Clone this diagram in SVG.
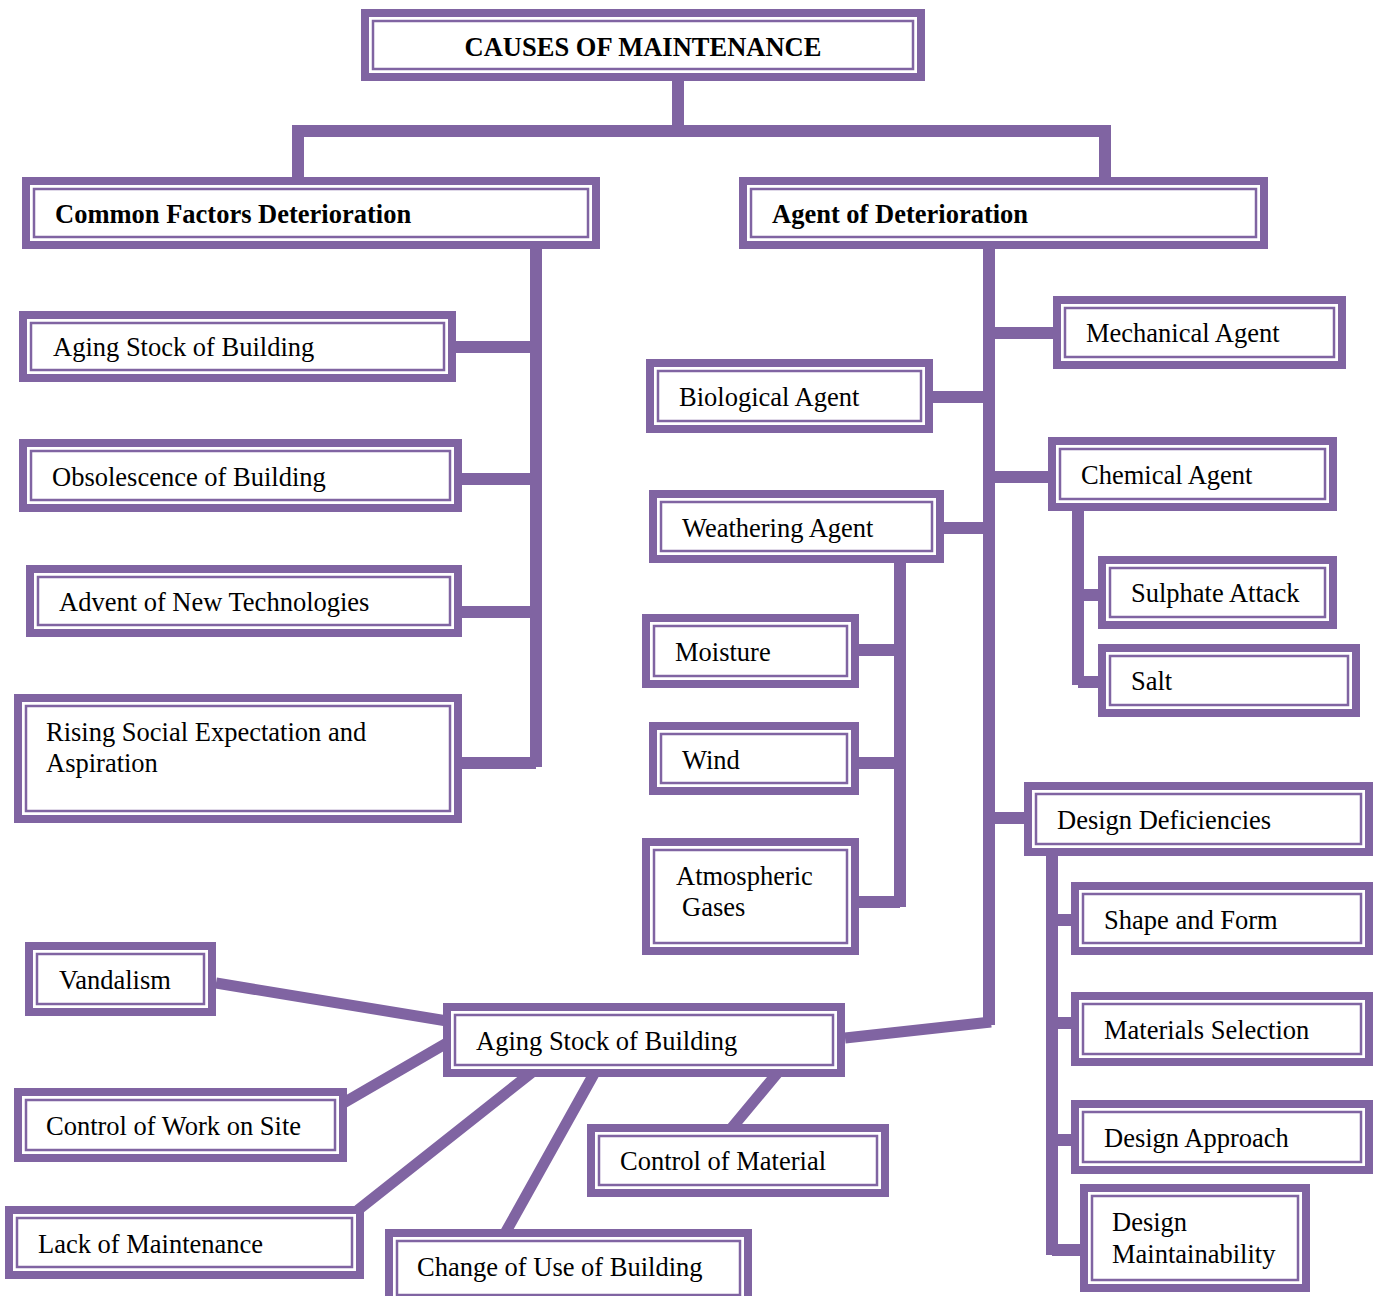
<svg xmlns="http://www.w3.org/2000/svg" width="1374" height="1296" viewBox="0 0 1374 1296">
<style>
.o{fill:#fff;stroke:#8064A2;stroke-width:8}
.i{fill:none;stroke:#8064A2;stroke-width:2.5}
.t{font-family:"Liberation Serif","Times New Roman",serif;font-size:26.5px;fill:#000}
.b{font-weight:bold}
.c{fill:none;stroke:#8064A2;stroke-width:12;stroke-linecap:butt;stroke-linejoin:miter}
.s{fill:none;stroke:#8064A2;stroke-width:11;stroke-linecap:butt}
</style>
<rect width="1374" height="1296" fill="#fff"/>
<g id="connectors">
<path class="c" d="M298,177 V131 H1105 V177 M678,81 V131"/>
<path class="c" d="M536,249 V767 M456,347 H536 M462,479 H536 M462,612 H536 M462,763 H536"/>
<path class="c" d="M989,249 V1025 M989,333 H1053 M933,397 H989 M989,477 H1048 M944,528 H989 M989,818 H1024"/>
<path class="s" d="M845,1038 L991,1022"/>
<path class="c" d="M900,563 V907 M859,650 H900 M859,763 H900 M859,902 H900"/>
<path class="c" d="M1078,511 V685 M1078,595 H1100 M1078,682 H1100"/>
<path class="c" d="M1052,856 V1255 M1052,920 H1073 M1052,1023 H1073 M1052,1140 H1073 M1052,1250 H1082"/>
<path class="s" d="M216,983 L447,1021 M340,1105 L452,1040 M358,1210 L535,1070 M503,1237 L595,1072 M730,1130 L780,1070"/>
</g>
<g id="n-title"><rect class="o" x="365" y="13" width="556" height="64"/><rect class="i" x="373" y="21" width="540" height="48"/><text class="t b" x="643" y="56" text-anchor="middle">CAUSES OF MAINTENANCE</text></g>
<g id="n-cfd"><rect class="o" x="26" y="181" width="570" height="64"/><rect class="i" x="34" y="189" width="554" height="48"/><text class="t b" x="55" y="223">Common Factors Deterioration</text></g>
<g id="n-aod"><rect class="o" x="743" y="181" width="521" height="64"/><rect class="i" x="751" y="189" width="505" height="48"/><text class="t b" x="772" y="223">Agent of Deterioration</text></g>
<g id="n-asb1"><rect class="o" x="23" y="315" width="429" height="63"/><rect class="i" x="31" y="323" width="413" height="47"/><text class="t" x="53" y="356">Aging Stock of Building</text></g>
<g id="n-obs"><rect class="o" x="23" y="443" width="435" height="65"/><rect class="i" x="31" y="451" width="419" height="49"/><text class="t" x="52" y="486">Obsolescence of Building</text></g>
<g id="n-adv"><rect class="o" x="30" y="569" width="428" height="64"/><rect class="i" x="38" y="577" width="412" height="48"/><text class="t" x="59" y="611">Advent of New Technologies</text></g>
<g id="n-rse"><rect class="o" x="18" y="698" width="440" height="121"/><rect class="i" x="26" y="706" width="424" height="105"/><text class="t" x="46" y="741">Rising Social Expectation and</text><text class="t" x="46" y="772">Aspiration</text></g>
<g id="n-mech"><rect class="o" x="1057" y="300" width="285" height="65"/><rect class="i" x="1065" y="308" width="269" height="49"/><text class="t" x="1086" y="342">Mechanical Agent</text></g>
<g id="n-bio"><rect class="o" x="650" y="363" width="279" height="66"/><rect class="i" x="658" y="371" width="263" height="50"/><text class="t" x="679" y="406">Biological Agent</text></g>
<g id="n-chem"><rect class="o" x="1052" y="441" width="281" height="66"/><rect class="i" x="1060" y="449" width="265" height="50"/><text class="t" x="1081" y="484">Chemical Agent</text></g>
<g id="n-wea"><rect class="o" x="653" y="494" width="287" height="65"/><rect class="i" x="661" y="502" width="271" height="49"/><text class="t" x="682" y="537">Weathering Agent</text></g>
<g id="n-sul"><rect class="o" x="1102" y="560" width="231" height="65"/><rect class="i" x="1110" y="568" width="215" height="49"/><text class="t" x="1131" y="602">Sulphate Attack</text></g>
<g id="n-salt"><rect class="o" x="1102" y="648" width="254" height="65"/><rect class="i" x="1110" y="656" width="238" height="49"/><text class="t" x="1131" y="690">Salt</text></g>
<g id="n-moist"><rect class="o" x="646" y="618" width="209" height="66"/><rect class="i" x="654" y="626" width="193" height="50"/><text class="t" x="675" y="661">Moisture</text></g>
<g id="n-wind"><rect class="o" x="653" y="726" width="202" height="65"/><rect class="i" x="661" y="734" width="186" height="49"/><text class="t" x="682" y="769">Wind</text></g>
<g id="n-atm"><rect class="o" x="646" y="842" width="209" height="109"/><rect class="i" x="654" y="850" width="193" height="93"/><text class="t" x="676" y="885">Atmospheric</text><text class="t" x="682" y="916">Gases</text></g>
<g id="n-dd"><rect class="o" x="1028" y="786" width="341" height="66"/><rect class="i" x="1036" y="794" width="325" height="50"/><text class="t" x="1057" y="829">Design Deficiencies</text></g>
<g id="n-saf"><rect class="o" x="1075" y="886" width="294" height="65"/><rect class="i" x="1083" y="894" width="278" height="49"/><text class="t" x="1104" y="929">Shape and Form</text></g>
<g id="n-ms"><rect class="o" x="1075" y="996" width="294" height="66"/><rect class="i" x="1083" y="1004" width="278" height="50"/><text class="t" x="1104" y="1039">Materials Selection</text></g>
<g id="n-da"><rect class="o" x="1075" y="1104" width="294" height="66"/><rect class="i" x="1083" y="1112" width="278" height="50"/><text class="t" x="1104" y="1147">Design Approach</text></g>
<g id="n-dm"><rect class="o" x="1084" y="1188" width="222" height="100"/><rect class="i" x="1092" y="1196" width="206" height="84"/><text class="t" x="1112" y="1231">Design</text><text class="t" x="1112" y="1263">Maintainability</text></g>
<g id="n-van"><rect class="o" x="29" y="946" width="183" height="66"/><rect class="i" x="37" y="954" width="167" height="50"/><text class="t" x="59" y="989">Vandalism</text></g>
<g id="n-asb2"><rect class="o" x="447" y="1007" width="394" height="66"/><rect class="i" x="455" y="1015" width="378" height="50"/><text class="t" x="476" y="1050">Aging Stock of Building</text></g>
<g id="n-cws"><rect class="o" x="18" y="1092" width="325" height="66"/><rect class="i" x="26" y="1100" width="309" height="50"/><text class="t" x="46" y="1135">Control of Work on Site</text></g>
<g id="n-com"><rect class="o" x="591" y="1128" width="294" height="65"/><rect class="i" x="599" y="1136" width="278" height="49"/><text class="t" x="620" y="1170">Control of Material</text></g>
<g id="n-lom"><rect class="o" x="9" y="1210" width="351" height="65"/><rect class="i" x="17" y="1218" width="335" height="49"/><text class="t" x="38" y="1253">Lack of Maintenance</text></g>
<g id="n-cub"><rect class="o" x="389" y="1233" width="359" height="70"/><rect class="i" x="397" y="1241" width="343" height="54"/><text class="t" x="417" y="1276">Change of Use of Building</text></g>
</svg>
